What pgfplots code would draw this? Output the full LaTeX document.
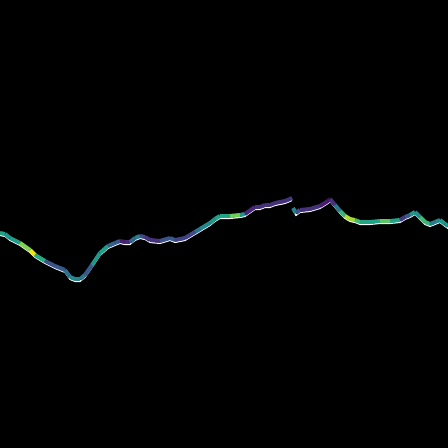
\documentclass[border=0pt]{standalone}
\usepackage{pgfplots}
\pgfplotsset{compat=1.18}
\begin{document}
\begin{tikzpicture}
\begin{axis}[
  scale only axis, width=448bp, height=448bp,
  xmin=0, xmax=448, ymin=0, ymax=448, y dir=reverse,
  hide axis, clip=true,
  colormap/viridis,
]
\fill[black] (axis cs:0,0) rectangle (axis cs:448,448);
\addplot[white, line width=1.3pt, shift={(0pt,-2.4pt)}] coordinates {
(0,233)(5,234)(10,238)(20,243)(30,250)(35,255)(45,261)(55,266)(65,270)(70,277)(75,279)(80,279)(85,275)(92,265)(100,253)(108,246)(115,243)(120,241)(125,242)(130,242)(135,238)(140,236)(145,237)(150,240)(160,241)(170,238)(175,240)(185,238)(190,235)(195,232)(200,229)(210,223)(215,219)(220,216)(230,216)(240,215)(245,214)(255,207)(260,207)(265,205)(270,205)(275,203)(285,201)(290,199)(292,198)
};
\addplot[white, line width=1.3pt, shift={(0pt,-2.4pt)}] coordinates {
(293,208)(296,213)(300,210)(310,209)(320,206)(328,201)(330,199)(335,205)(340,211)(345,216)(350,219)(355,220)(360,222)(370,222)(380,221)(390,221)(400,220)(405,217)(410,215)(415,212)(420,217)(425,222)(430,224)(435,222)(440,220)(445,224)(448,226)
};
\addplot[mesh, shader=flat, line width=4pt, point meta=explicit] coordinates {
(0,233)[0.6](5,234)[0.55](10,238)[0.5](20,243)[0.6](30,250)[0.95](35,255)[0.9](45,261)[0.3](55,266)[0.25](65,270)[0.35](70,277)[0.4](75,279)[0.55](80,279)[0.35](85,275)[0.45](92,265)[0.15](100,253)[0.9](108,246)[0.2](115,243)[0.45](120,241)[0.15](125,242)[0.1](130,242)[0.2](135,238)[0.5](140,236)[0.35](145,237)[0.15](150,240)[0.2](160,241)[0.15](170,238)[0.4](175,240)[0.2](185,238)[0.25](190,235)[0.2](195,232)[0.3](200,229)[0.45](210,223)[0.5](215,219)[0.55](220,216)[0.6](230,216)[0.55](240,215)[0.95](245,214)[0.1](255,207)[0.2](260,207)[0.15](265,205)[0.2](270,205)[0.15](275,203)[0.2](285,201)[0.15](290,199)[0.2](292,198)[0.25]
};
\addplot[mesh, shader=flat, line width=4pt, point meta=explicit] coordinates {
(293,208)[0.5](296,213)[0.4](300,210)[0.15](310,209)[0.2](320,206)[0.15](328,201)[0.1](330,199)[0.05](335,205)[0.3](340,211)[0.5](345,216)[0.8](350,219)[0.9](355,220)[0.75](360,222)[0.6](370,222)[0.55](380,221)[0.6](390,221)[0.85](400,220)[0.3](405,217)[0.1](410,215)[0.5](415,212)[0.55](420,217)[0.45](425,222)[0.9](430,224)[0.4](435,222)[0.45](440,220)[0.5](445,224)[0.55](448,226)[0.5]
};
\end{axis}
\end{tikzpicture}
\end{document}
